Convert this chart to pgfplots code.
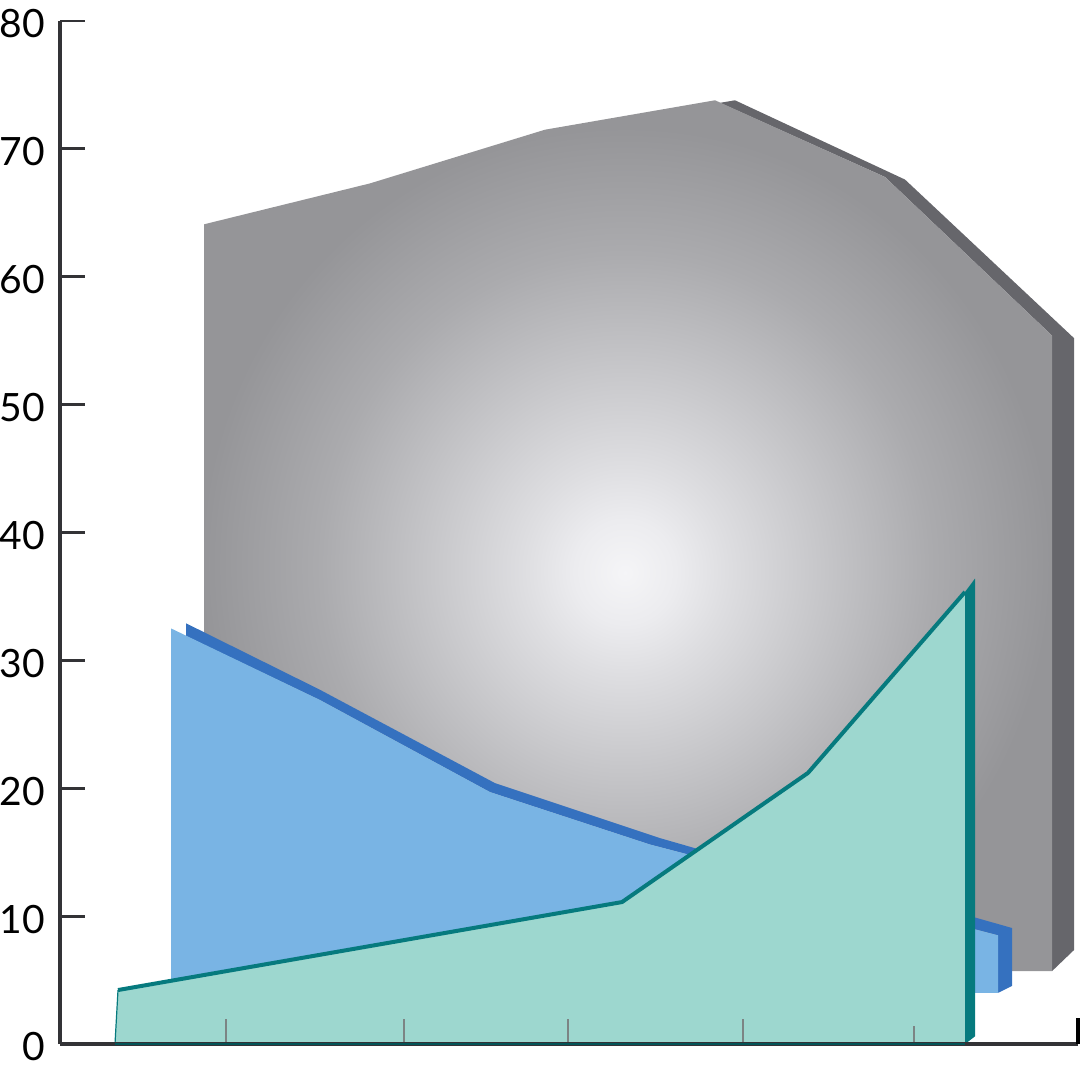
\documentclass[border=0pt]{standalone}
\usepackage{fontspec}
\setmainfont{Lato}
\usepackage{pgfplots}
\pgfplotsset{compat=1.18}
\definecolor{axisdark}{HTML}{333336}
\definecolor{graySide}{HTML}{66666B}
\definecolor{blueFront}{HTML}{79B4E4}
\definecolor{blueSide}{HTML}{3571BF}
\definecolor{tealFront}{HTML}{9DD7CF}
\definecolor{tealSide}{HTML}{067A7E}
\definecolor{tickgray}{HTML}{7C8484}
\pgfdeclareradialshading{grayball}{\pgfpoint{-0.18bp}{-2.13bp}}{
  rgb(0bp)=(0.960,0.960,0.968);
  rgb(3bp)=(0.925,0.925,0.937);
  rgb(6bp)=(0.870,0.870,0.882);
  rgb(12bp)=(0.770,0.770,0.782);
  rgb(18bp)=(0.670,0.670,0.682);
  rgb(25bp)=(0.585,0.585,0.597);
  rgb(100bp)=(0.585,0.585,0.597)}
\begin{document}
\begin{tikzpicture}
\begin{axis}[
  at={(30pt,11.5pt)}, anchor=origin,
  scale only axis, width=509pt, height=511.5pt,
  xmin=60, xmax=1078, ymin=0, ymax=80,
  clip=false, set layers=axis on top, axis on top,
  axis lines=left,
  axis line style={-, draw=axisdark, line width=1.6pt},
  xtick={226,404,568,743,914}, xticklabels={},
  ytick={0,10,...,80},
  tick align=inside,
  y tick style={draw=axisdark, line width=1.4pt},
  x tick style={draw=tickgray, line width=1.2pt, shorten >=3.5pt},
  major tick length=12.5pt,
  /pgf/number format/assume math mode=true,
  yticklabel style={font=\fontsize{19.5}{19.5}\selectfont, inner sep=0pt, anchor=east, xshift=-7.2pt, yshift=-1.5pt},
]
% gray side
\addplot[draw=none, fill=graySide] coordinates {(720,73.6)(735,73.8)(905,67.6)(1074,55.2)(1074,7.35)(1052,5.7)(1052,55.4)(885,67.8)} --cycle;
% gray front
\addplot[draw=none, shade, shading=grayball] coordinates {(204,64.1)(370,67.3)(545,71.5)(715,73.8)(885,67.8)(1052,55.4)(1052,5.7)(204,5.7)} --cycle;
% blue side
\addplot[draw=none, fill=blueSide] coordinates {(186,32.9)(320,27.7)(495,20.4)(660,16.1)(700,15.2)(977,9.85)(1012,9.07)(1012,4.54)(998,4.0)(998,8.5)(650,15.6)(490,19.7)(320,26.9)(186,31.9)} --cycle;
% blue front
\addplot[draw=none, fill=blueFront] coordinates {(171,32.5)(320,26.9)(490,19.7)(650,15.6)(998,8.5)(998,4.0)(171,4.0)} --cycle;
% teal front
\addplot[draw=none, fill=tealFront] coordinates {(115,0)(118,4.22)(622,11.1)(808,21.2)(965,35.35)(965,0)} --cycle;
% teal side
\addplot[draw=none, fill=tealSide] coordinates {(965,35.35)(975,36.4)(975,0.6)(965,0)} --cycle;
% teal edge
\addplot[draw=tealSide, line width=2pt, line join=round] coordinates {(118,4.22)(622,11.1)(808,21.2)(965,35.35)};
\addplot[draw=tealSide, line width=0.6pt] coordinates {(115,0)(118,4.22)};
\addplot[draw=tealSide!70!black, line width=1.3pt, on layer=axis foreground] coordinates {(115,0)(965,0)};
% tick at the right end
\addplot[draw=black, line width=1.6pt, on layer=axis foreground] coordinates {(1078,0)(1078,2.05)};
\end{axis}
\pgfresetboundingbox
\path[use as bounding box] (0,0) rectangle (540pt,533.5pt);
\end{tikzpicture}
\end{document}
